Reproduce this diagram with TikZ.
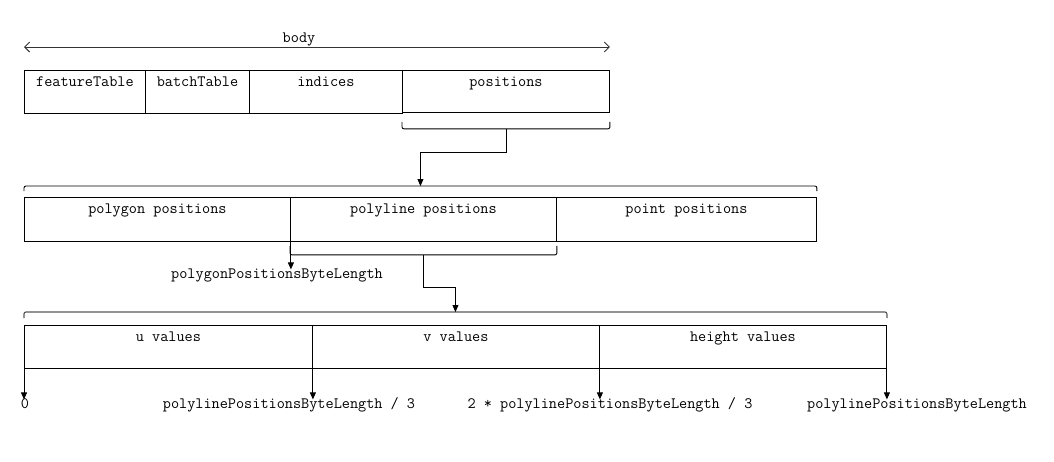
\documentclass[tikz,border=0pt]{standalone}
\usepackage{fontspec}
\usetikzlibrary{arrows.meta,calc}
\begin{document}
\begin{tikzpicture}[x=1pt,y=-1pt,
  box/.style={draw, line width=0.9pt, anchor=north west, inner sep=0pt, minimum height=43pt},
  txt/.style={font=\ttfamily\fontsize{15.8}{18}\selectfont, inner sep=0pt, text height=0.68em, text depth=0.2em},
  boxlabel/.style={label={[txt,anchor=center,yshift=-14.5pt]north:#1}},
  ln/.style={line width=0.9pt},
  arr/.style={ln, -{Triangle[length=7pt,width=6pt]}},
  brace/.style={ln, rounded corners=2pt}]
\useasboundingbox (0,0) rectangle (1054,461);

% row 1
\node[box, minimum width=121pt, boxlabel=featureTable] (ft) at (24,70) {};
\node[box, minimum width=104pt, boxlabel=batchTable] (bt) at (145,70) {};
\node[box, minimum width=153pt, boxlabel=indices] (ind) at (249,70) {};
\node[box, minimum width=207pt, minimum height=42pt, boxlabel=positions] (pos) at (402,70) {};

% body arrow
\node[txt] (body) at (299,40) {body};
\draw[ln, black!80, {Straight Barb[length=5pt,width=10pt]}-{Straight Barb[length=5pt,width=10pt]}]
  ([yshift=23pt]ft.north west) -- ([yshift=23pt]pos.north east);

% row 2
\node[box, minimum width=266pt, minimum height=44pt, boxlabel={polygon positions}] (polygon) at (24,197) {};
\node[box, minimum width=266pt, minimum height=44pt, boxlabel={polyline positions}] (polyline) at (290,197) {};
\node[box, minimum width=260pt, minimum height=44pt, boxlabel={point positions}] (point) at (556,197) {};

% row 3
\node[box, minimum width=288pt, boxlabel={u values}] (u) at (24,325) {};
\node[box, minimum width=287pt, boxlabel={v values}] (v) at (312,325) {};
\node[box, minimum width=287pt, boxlabel={height values}] (hv) at (599,325) {};

% brace under positions
\draw[brace] ([yshift=-9pt]pos.south west) -- ([yshift=-16pt]pos.south west)
  -- ([yshift=-16pt]pos.south east) -- ([yshift=-9pt]pos.south east);
% brace over row 2
\draw[brace] ([yshift=6pt]polygon.north west) -- ([yshift=11pt]polygon.north west)
  -- ([yshift=11pt]point.north east) -- ([yshift=6pt]point.north east);
\coordinate (b2c) at ($(polygon.north west)!0.5!(point.north east)+(0,-11)$);
\draw[arr] ([yshift=-16pt]pos.south) -- ++(0,24) -| (b2c);

% polygon length
\node[txt] (pgl) at (277,276) {polygonPositionsByteLength};
\draw[arr] (polygon.south east) -- ([yshift=2pt]polygon.south east |- pgl.north);

% brace under polyline
\draw[brace] ([yshift=-4pt]polyline.south west) -- ([yshift=-13pt]polyline.south west)
  -- ([yshift=-13pt]polyline.south east) -- ([yshift=-4pt]polyline.south east);
% brace over row 3
\draw[brace, black!65, line width=1.2pt] ([yshift=7pt]u.north west) -- ([yshift=13pt]u.north west)
  -- ([yshift=13pt]hv.north east) -- ([yshift=7pt]hv.north east);
\coordinate (b3c) at ($(u.north west)!0.5!(hv.north east)+(0,-13)$);
\draw[arr] ([yshift=-13pt]polyline.south) -- ++(0,33) -| (b3c);

% bottom labels
\node[txt] (l0) at (25,406) {0};
\node[txt] (l1) at (289,406) {polylinePositionsByteLength / 3};
\node[txt] (l2) at (610,406) {2 * polylinePositionsByteLength / 3};
\node[txt] (l3) at (917,406) {polylinePositionsByteLength};
\draw[arr] (u.south west) -- ([yshift=2pt]u.south west |- l0.north);
\draw[arr] (u.south east) -- ([yshift=2pt]u.south east |- l1.north);
\draw[arr] (v.south east) -- ([yshift=2pt]v.south east |- l2.north);
\draw[arr] (hv.south east) -- ([yshift=2pt]hv.south east |- l3.north);
\end{tikzpicture}
\end{document}
